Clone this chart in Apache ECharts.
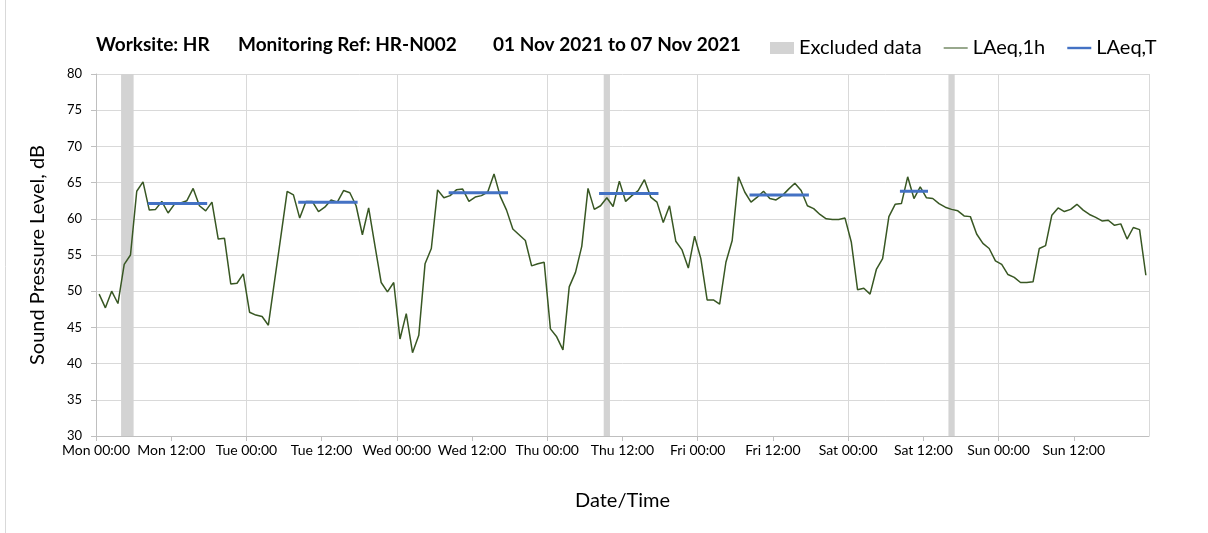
<!DOCTYPE html>
<html>
<head>
<meta charset="utf-8">
<script src="https://cdn.jsdelivr.net/npm/echarts@6/dist/echarts.min.js"></script>
<style>
  html, body { margin: 0; padding: 0; background: #fff; }
  #chart { width: 1208px; height: 533px; }
</style>
</head>
<body>
<div id="chart"></div>
<script>
const dayNames = ['Mon', 'Tue', 'Wed', 'Thu', 'Fri', 'Sat', 'Sun']

// hourly LAeq,1h from Mon 00:00 to Sun 23:00
const laeq1h = [
  49.6, 47.7, 50.0, 48.3, 53.7, 55.0, 63.8, 65.1, 61.2, 61.3, 62.4, 60.8,
  62.0, 62.2, 62.5, 64.2, 61.8, 61.1, 62.3, 57.2, 57.3, 51.0, 51.1, 52.4,
  47.1, 46.7, 46.5, 45.3, 51.5, 57.6, 63.8, 63.3, 60.1, 62.4, 62.4, 61.0,
  61.6, 62.6, 62.3, 63.9, 63.6, 61.8, 57.8, 61.5, 56.3, 51.2, 49.9, 51.2,
  43.4, 46.9, 41.5, 43.9, 53.8, 55.9, 64.0, 62.9, 63.2, 64.0, 64.1, 62.4,
  63.0, 63.2, 63.7, 66.2, 63.1, 61.2, 58.6, 57.8, 57.0, 53.5, 53.8, 54.0,
  44.8, 43.7, 41.9, 50.6, 52.6, 56.2, 64.2, 61.3, 61.8, 62.9, 61.7, 65.2,
  62.4, 63.2, 63.9, 65.4, 63.0, 62.3, 59.5, 61.8, 56.9, 55.7, 53.2, 57.6,
  54.5, 48.8, 48.8, 48.2, 54.0, 57.0, 65.8, 63.7, 62.3, 63.0, 63.8, 62.8,
  62.6, 63.2, 64.1, 64.9, 63.9, 61.8, 61.4, 60.6, 60.0, 59.9, 59.9, 60.1,
  56.8, 50.2, 50.4, 49.6, 53.0, 54.5, 60.3, 62.0, 62.1, 65.8, 62.8, 64.4,
  62.9, 62.8, 62.1, 61.6, 61.3, 61.1, 60.4, 60.3, 57.9, 56.6, 55.9, 54.2,
  53.7, 52.3, 51.9, 51.2, 51.2, 51.3, 55.9, 56.3, 60.5, 61.5, 61.0, 61.3,
  62.0, 61.2, 60.6, 60.2, 59.7, 59.8, 59.1, 59.3, 57.2, 58.8, 58.5, 52.2
]

// LAeq,T periods (first and last hour index) and level
const periodStart = [8, 32, 56, 80, 104, 128]
const periodEnd = [17, 41, 65, 89, 113, 132]
const periodLevel = [62.1, 62.3, 63.6, 63.5, 63.3, 63.8]

// excluded data, hours from Mon 00:00
const excludedStart = [4, 81, 136]
const excludedEnd = [6, 82, 137]

const FONT = 'Lato'
const GRID = '#d9d9d9'

const hourlyData = laeq1h.map((v, i) => [i + 0.5, v])

const periodData = []
periodStart.forEach((s, k) => {
  periodData.push([s + 0.5, periodLevel[k]])
  periodData.push([periodEnd[k] + 0.5, periodLevel[k]])
  periodData.push([periodEnd[k] + 1, '-'])
})

const excludedAreas = excludedStart.map((s, k) => [{ xAxis: s }, { xAxis: excludedEnd[k] }])

function xLabel(v) {
  if (v >= 168) return ''
  const d = dayNames[Math.floor(v / 24)]
  return d + ' ' + (v % 24 === 0 ? '00:00' : '12:00')
}

const titleStyle = { fontFamily: FONT, fontSize: 19, fontWeight: 'bold', color: '#000' }

const chart = echarts.init(document.getElementById('chart'), null, { renderer: 'canvas' })

chart.setOption({
  animation: false,
  backgroundColor: '#fff',
  textStyle: { fontFamily: FONT },
  title: [
    { text: 'Worksite: HR', left: 96, top: 35, padding: 0, textStyle: titleStyle },
    { text: 'Monitoring Ref: HR-N002', left: 238, top: 35, padding: 0, textStyle: titleStyle },
    { text: '01 Nov 2021 to 07 Nov 2021', left: 493, top: 35, padding: 0, textStyle: titleStyle }
  ],
  legend: {
    left: 770,
    top: 38,
    padding: 0,
    itemWidth: 24,
    itemHeight: 12,
    itemGap: 22,
    textStyle: { fontFamily: FONT, fontSize: 20, color: '#000' },
    data: [
      { name: 'Excluded data', icon: 'rect' },
      { name: 'LAeq,1h', icon: 'path://M0,0H30V1.3H0Z' },
      { name: 'LAeq,T', icon: 'path://M0,0H30V3H0Z' }
    ]
  },
  grid: { left: 96, right: 59, top: 74, bottom: 97 },
  xAxis: [
    {
      type: 'value',
      min: 0,
      max: 168,
      interval: 12,
      name: 'Date/Time',
      nameLocation: 'middle',
      nameGap: 55,
      nameTextStyle: { fontFamily: FONT, fontSize: 20, color: '#000' },
      axisLine: { show: true, lineStyle: { color: '#bfbfbf' } },
      axisTick: { show: true, length: 5, lineStyle: { color: '#bfbfbf' } },
      axisLabel: { formatter: xLabel, fontFamily: FONT, fontSize: 14, color: '#000', margin: 7, showMaxLabel: false },
      splitLine: { show: false }
    },
    {
      type: 'value',
      min: 0,
      max: 168,
      interval: 24,
      position: 'bottom',
      axisLine: { show: false },
      axisTick: { show: false },
      axisLabel: { show: false },
      splitLine: { show: true, lineStyle: { color: GRID, width: 1 } }
    }
  ],
  yAxis: {
    type: 'value',
    min: 30,
    max: 80,
    interval: 5,
    name: 'Sound Pressure Level, dB',
    nameLocation: 'middle',
    nameGap: 48,
    nameTextStyle: { fontFamily: FONT, fontSize: 20, color: '#000' },
    axisLine: { show: true, lineStyle: { color: '#bfbfbf' } },
    axisTick: { show: true, length: 5, lineStyle: { color: '#bfbfbf' } },
    axisLabel: { fontFamily: FONT, fontSize: 13, color: '#000', margin: 14 },
    splitLine: { show: true, lineStyle: { color: GRID, width: 1 } }
  },
  series: [
    {
      name: 'Excluded data',
      type: 'line',
      data: [],
      color: '#d3d3d3',
      z: 1,
      markArea: {
        silent: true,
        itemStyle: { color: '#d3d3d3' },
        data: excludedAreas
      }
    },
    {
      name: 'LAeq,1h',
      type: 'line',
      data: hourlyData,
      color: '#385723',
      symbol: 'none',
      z: 3,
      lineStyle: { width: 1.5, color: '#385723' }
    },
    {
      name: 'LAeq,T',
      type: 'line',
      data: periodData,
      color: '#4472c4',
      symbol: 'none',
      connectNulls: false,
      z: 4,
      lineStyle: { width: 3, color: '#4472c4', cap: 'square' }
    }
  ],
  graphic: [
    { type: 'line', shape: { x1: 5.5, y1: 0, x2: 5.5, y2: 533 }, style: { stroke: '#d9d9d9', lineWidth: 1 }, silent: true }
  ]
})
</script>
</body>
</html>
